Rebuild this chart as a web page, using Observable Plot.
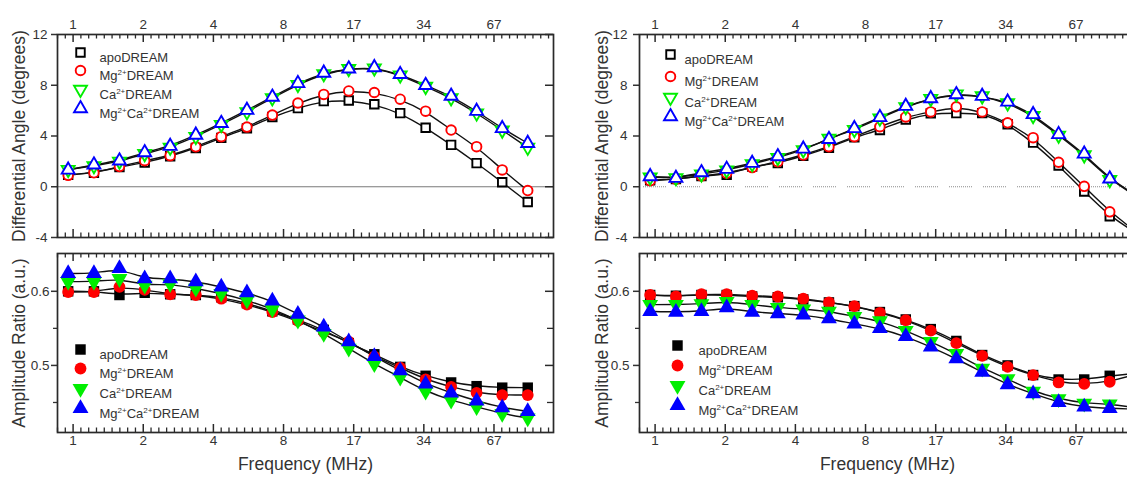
<!DOCTYPE html>
<html><head><meta charset="utf-8">
<script src="https://cdn.jsdelivr.net/npm/d3@7"></script>
<script src="https://cdn.jsdelivr.net/npm/@observablehq/plot@0.6"></script>
<style>
html,body{margin:0;padding:0;width:1127px;height:479px;overflow:hidden;background:#fff;}
#root{position:relative;width:1127px;height:479px;overflow:hidden;}
.panel{position:absolute;overflow:visible;}
</style></head><body><div id="root"></div>
<script>
// ---- data ----
const freqMHz = [1.00, 1.29, 1.66, 2.13, 2.74, 3.53, 4.54, 5.85, 7.52, 9.68, 12.5, 16.0, 20.6, 26.6, 34.2, 44.0, 56.6, 72.9, 93.8];
const fitEndMHz = 121;
const seriesNames = ["apoDREAM", "Mg2+DREAM", "Ca2+DREAM", "Mg2+Ca2+DREAM"];
const seriesColors = ["#000000", "#ff0000", "#00ee00", "#0000ff"];
const xTickValues = [1.05, 2.1, 4.2, 8.4, 16.8, 33.6, 67.2];
const xTickLabels = ["1", "2", "4", "8", "17", "34", "67"];
const angleTicks = [12, 8, 4, 0, -4];
const ampTicks = [0.6, 0.5];
const ampMinorTicks = [0.55, 0.45];
const angleTitle = "Differential Angle (degrees)";
const ampTitle = "Amplitude Ratio (a.u.)";
const freqTitle = "Frequency (MHz)";

// left: differential angle
const angleL_apo   = [0.95, 1.10, 1.55, 1.90, 2.40, 3.05, 3.85, 4.60, 5.50, 6.20, 6.75, 6.80, 6.50, 5.80, 4.65, 3.30, 1.86, 0.35, -1.20];
const angleL_mg    = [0.90, 1.10, 1.60, 2.05, 2.45, 3.15, 3.95, 4.70, 5.65, 6.60, 7.28, 7.55, 7.43, 6.90, 5.96, 4.47, 3.16, 1.33, -0.30];
const angleL_ca    = [1.35, 1.65, 2.00, 2.60, 3.10, 3.95, 4.90, 5.90, 7.00, 8.05, 8.90, 9.30, 9.35, 8.80, 7.90, 7.00, 5.80, 4.45, 3.10];
const angleL_mgca  = [1.33, 1.73, 2.05, 2.70, 3.20, 4.08, 5.00, 6.04, 7.07, 8.15, 8.97, 9.30, 9.40, 8.86, 8.00, 7.15, 5.96, 4.60, 3.43];
// left: amplitude ratio
const ampL_apo   = [0.600, 0.600, 0.595, 0.598, 0.596, 0.595, 0.592, 0.584, 0.573, 0.562, 0.548, 0.530, 0.515, 0.498, 0.486, 0.477, 0.472, 0.470, 0.470];
const ampL_mg    = [0.599, 0.599, 0.606, 0.602, 0.596, 0.595, 0.590, 0.582, 0.572, 0.560, 0.545, 0.532, 0.512, 0.497, 0.481, 0.471, 0.463, 0.460, 0.460];
const ampL_ca    = [0.613, 0.613, 0.617, 0.608, 0.610, 0.604, 0.597, 0.588, 0.576, 0.561, 0.543, 0.523, 0.502, 0.484, 0.465, 0.453, 0.444, 0.435, 0.429];
const ampL_mgca  = [0.624, 0.624, 0.631, 0.617, 0.617, 0.613, 0.606, 0.598, 0.587, 0.569, 0.552, 0.532, 0.512, 0.493, 0.475, 0.463, 0.452, 0.443, 0.438];
// right: differential angle
const angleR_apo  = [0.50, 0.60, 0.85, 0.95, 1.60, 1.86, 2.43, 3.08, 3.90, 4.47, 5.30, 5.78, 5.80, 5.80, 4.93, 3.48, 1.67, -0.37, -2.33];
const angleR_mg   = [0.47, 0.60, 0.86, 1.07, 1.51, 1.98, 2.50, 3.16, 3.95, 4.73, 5.50, 5.90, 6.30, 5.90, 5.04, 3.87, 1.93, 0.03, -1.98];
const angleR_ca   = [0.75, 0.70, 1.00, 1.30, 1.80, 2.30, 2.90, 3.80, 4.50, 5.40, 6.30, 6.95, 7.30, 7.15, 6.60, 5.60, 4.05, 2.50, 0.55];
const angleR_mgca = [0.81, 0.68, 1.12, 1.39, 1.86, 2.38, 2.98, 3.74, 4.60, 5.47, 6.35, 6.96, 7.27, 7.14, 6.69, 5.70, 4.13, 2.59, 0.63];
const angleR_fitEnd = [-3.6, -3.5, -0.7, -0.65];
// right: amplitude ratio
const ampR_apo  = [0.595, 0.594, 0.595, 0.595, 0.593, 0.592, 0.589, 0.585, 0.580, 0.572, 0.562, 0.549, 0.533, 0.514, 0.500, 0.487, 0.481, 0.481, 0.486];
const ampR_mg   = [0.595, 0.593, 0.596, 0.596, 0.594, 0.593, 0.590, 0.585, 0.580, 0.571, 0.561, 0.547, 0.530, 0.513, 0.498, 0.487, 0.477, 0.475, 0.478];
const ampR_ca   = [0.582, 0.582, 0.583, 0.586, 0.582, 0.578, 0.576, 0.573, 0.566, 0.560, 0.547, 0.532, 0.516, 0.496, 0.482, 0.465, 0.455, 0.449, 0.448];
const ampR_mgca = [0.573, 0.572, 0.573, 0.578, 0.572, 0.570, 0.568, 0.563, 0.556, 0.550, 0.539, 0.525, 0.509, 0.491, 0.474, 0.462, 0.450, 0.444, 0.442];
const ampR_fitEnd = [0.489, 0.488, 0.443, 0.441];

// ---- drawing ----
const triDown = {
  draw(context, size) {
    const s3 = Math.sqrt(3);
    const y = Math.sqrt(size / (s3 * 3));
    context.moveTo(0, y * 2);
    context.lineTo(-s3 * y, -y);
    context.lineTo(s3 * y, -y);
    context.closePath();
  }
};
const symbols = ["square", "circle", triDown, "triangle"];
const FONT = "'Liberation Sans', Arial, Helvetica, sans-serif";
const INK = "#2a2a2a";

// log-spaced minor ticks between major octave ticks (axis decoration)
const xMinorTicks = [];
for (let n = -1; n < 7; n++) for (let k = 1; k < 9; k++) {
  const v = 1.05 * Math.pow(2, n + k / 9);
  if (v > 0.9 && v < 121) xMinorTicks.push(v);
}

function dotStyle(i, filled) {
  return filled
    ? {symbol: symbols[i], r: 5.9, fill: seriesColors[i], stroke: "none"}
    : {symbol: symbols[i], r: 4.8, fill: "white", stroke: seriesColors[i], strokeWidth: 1.9};
}

const dottedPattern = Array.from({length: 12}, (_, i) => i < 11 ? "1 1" : "1 11").join(" ");

function makePanel(cfg) {
  const innerW = cfg.width - cfg.ml - cfg.mr;
  const innerH = cfg.height - cfg.mt - cfg.mb;
  const marks = [];
  if (cfg.zero === "solid") marks.push(Plot.ruleY([0], {stroke: "#7a7a7a", strokeWidth: 1.2}));
  if (cfg.zero === "dotted") marks.push(Plot.ruleY([0], {stroke: "#8c8c8c", strokeWidth: 1.2, strokeDasharray: dottedPattern, strokeDashoffset: 30}));
  // fitted curves
  cfg.series.forEach((s, i) => {
    const rows = freqMHz.map((f, j) => ({f, v: s[j]}));
    if (cfg.ends) rows.push({f: fitEndMHz, v: cfg.ends[i]});
    marks.push(Plot.line(rows, {x: "f", y: "v", curve: "basis", stroke: "#111", strokeWidth: 1.4}));
  });
  // markers
  cfg.series.forEach((s, i) => {
    const rows = freqMHz.map((f, j) => ({f, v: s[j]}));
    marks.push(Plot.dot(rows, {x: "f", y: "v", ...dotStyle(i, cfg.filled)}));
  });
  // x ticks (inward, top and bottom)
  marks.push(Plot.tickX(xTickValues, {x: d => d, insetBottom: innerH - 8, stroke: INK, strokeWidth: 1.5}));
  marks.push(Plot.tickX(xTickValues, {x: d => d, insetTop: innerH - 8, stroke: INK, strokeWidth: 1.5}));
  marks.push(Plot.tickX(xMinorTicks, {x: d => d, insetBottom: innerH - 4.5, stroke: INK, strokeWidth: 1.3}));
  marks.push(Plot.tickX(xMinorTicks, {x: d => d, insetTop: innerH - 4.5, stroke: INK, strokeWidth: 1.3}));
  // y axis left (outward) + right (inward)
  marks.push(Plot.axisY({anchor: "left", ticks: cfg.yTicks, tickSize: 6, tickPadding: cfg.yPad, tickFormat: cfg.yFormat, label: null, color: "#333", strokeWidth: 1.5, fontSize: 13.5}));
  if (cfg.yMinor.length) {
    marks.push(Plot.axisY({anchor: "left", ticks: cfg.yMinor, tickSize: 4, tickFormat: () => "", label: null, color: "#333", strokeWidth: 1.3}));
  }
  marks.push(Plot.tickY(cfg.yTicks, {y: d => d, insetLeft: innerW - 8, stroke: INK, strokeWidth: 1.5}));
  if (cfg.yMinor.length) marks.push(Plot.tickY(cfg.yMinor, {y: d => d, insetLeft: innerW - 6, stroke: INK, strokeWidth: 1.3}));
  // y title (centred on the frame's left edge, rotated)
  marks.push(Plot.text([cfg.yTitle], {frameAnchor: "left", dx: cfg.titleDx, rotate: -90, textAnchor: "middle", text: d => d, fontSize: 17.5, fill: "#333"}));
  // x tick labels
  if (cfg.topLabels) marks.push(Plot.text(xTickValues, {x: d => d, frameAnchor: "top", dy: -15, text: (d, i) => xTickLabels[i], fill: "#333", fontSize: 13.5}));
  if (cfg.bottomLabels) {
    marks.push(Plot.text(xTickValues, {x: d => d, frameAnchor: "bottom", dy: 12, text: (d, i) => xTickLabels[i], fill: "#333", fontSize: 13.5}));
    marks.push(Plot.text([freqTitle], {frameAnchor: "bottom", dy: 37, text: d => d, fontSize: 17.5, fill: "#333"}));
  }
  // legend
  seriesNames.forEach((name, i) => {
    marks.push(Plot.dot([name], {frameAnchor: "top-left", dx: cfg.legend.mx, dy: cfg.legend.dys[i], ...dotStyle(i, cfg.filled)}));
    marks.push(Plot.text([name], {frameAnchor: "top-left", dx: cfg.legend.tx, dy: cfg.legend.dys[i], text: d => d, textAnchor: "start", fontSize: 13, fill: "#333"}));
  });
  marks.push(Plot.frame({stroke: INK, strokeWidth: 1.7}));

  const svg = Plot.plot({
    width: cfg.width, height: cfg.height,
    marginLeft: cfg.ml, marginRight: cfg.mr, marginTop: cfg.mt, marginBottom: cfg.mb,
    x: {type: "log", domain: [0.9, 121], axis: null},
    y: {domain: cfg.yDomain},
    style: {fontFamily: FONT, fontSize: "13.5px", color: "#333", background: "transparent", overflow: "visible"},
    marks
  });
  supify(svg);
  const div = document.createElement("div");
  div.className = "panel";
  div.style.left = cfg.left + "px";
  div.style.top = cfg.top + "px";
  div.style.width = cfg.width + "px";
  div.style.height = cfg.height + "px";
  div.appendChild(svg);
  document.getElementById("root").appendChild(div);
}

function supify(svg) {
  const ns = "http://www.w3.org/2000/svg";
  svg.querySelectorAll("text").forEach(t => {
    if (t.querySelector("tspan")) return;
    const s = t.textContent;
    if (!s.includes("2+")) return;
    const parts = s.split("2+");
    t.textContent = "";
    parts.forEach((p, i) => {
      if (i > 0) {
        const sup = document.createElementNS(ns, "tspan");
        sup.setAttribute("dy", "-5");
        sup.setAttribute("font-size", "8");
        sup.textContent = "2+";
        t.appendChild(sup);
      }
      const ts = document.createElementNS(ns, "tspan");
      if (i > 0) ts.setAttribute("dy", "5");
      ts.textContent = p;
      t.appendChild(ts);
    });
  });
}

const fmtAngle = d => String(d);
const fmtAmp = d => d.toFixed(1);

makePanel({left: 0, top: 0, width: 560, height: 245, ml: 57, mr: 7, mt: 34, mb: 8,
  yDomain: [-4, 12], yTicks: angleTicks, yMinor: [], yFormat: fmtAngle, yPad: 4, titleDx: -38,
  series: [angleL_apo, angleL_mg, angleL_ca, angleL_mgca], filled: false, zero: "solid",
  yTitle: angleTitle, topLabels: true, bottomLabels: false,
  legend: {mx: 23, tx: 42, dys: [18, 36, 55, 74]}});

makePanel({left: 0, top: 245, width: 560, height: 234, ml: 57, mr: 7, mt: 8, mb: 47,
  yDomain: [0.4095, 0.651], yTicks: ampTicks, yMinor: ampMinorTicks, yFormat: fmtAmp, yPad: 2, titleDx: -38,
  series: [ampL_apo, ampL_mg, ampL_ca, ampL_mgca], filled: true, zero: null,
  yTitle: ampTitle, topLabels: false, bottomLabels: true,
  legend: {mx: 23, tx: 42, dys: [96, 115, 135, 155]}});

makePanel({left: 583, top: 0, width: 559, height: 245, ml: 56, mr: 7, mt: 34, mb: 8,
  yDomain: [-4, 12], yTicks: angleTicks, yMinor: [], yFormat: fmtAngle, yPad: 6, titleDx: -37,
  series: [angleR_apo, angleR_mg, angleR_ca, angleR_mgca], ends: angleR_fitEnd, filled: false, zero: "dotted",
  yTitle: angleTitle, topLabels: true, bottomLabels: false,
  legend: {mx: 31, tx: 45, dys: [20, 42, 63, 82]}});

makePanel({left: 583, top: 245, width: 559, height: 234, ml: 56, mr: 7, mt: 8, mb: 47,
  yDomain: [0.4095, 0.651], yTicks: ampTicks, yMinor: ampMinorTicks, yFormat: fmtAmp, yPad: 4, titleDx: -37,
  series: [ampR_apo, ampR_mg, ampR_ca, ampR_mgca], ends: ampR_fitEnd, filled: true, zero: null,
  yTitle: ampTitle, topLabels: false, bottomLabels: true,
  legend: {mx: 38, tx: 59, dys: [92, 112, 132, 152]}});
</script>
</body></html>
